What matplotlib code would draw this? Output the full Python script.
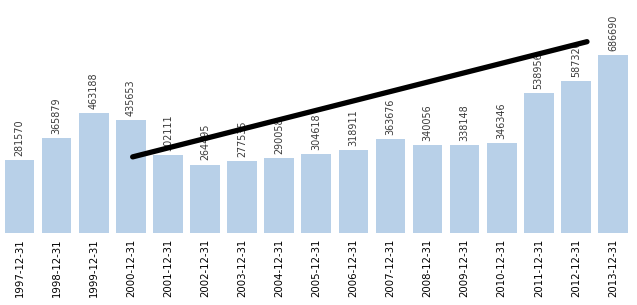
import matplotlib
matplotlib.use('Agg')
import matplotlib.pyplot as plt

dates = ['1997-12-31', '1998-12-31', '1999-12-31', '2000-12-31', '2001-12-31',
         '2002-12-31', '2003-12-31', '2004-12-31', '2005-12-31', '2006-12-31',
         '2007-12-31', '2008-12-31', '2009-12-31', '2010-12-31', '2011-12-31',
         '2012-12-31', '2013-12-31']
values = [281570, 365879, 463188, 435653, 302111, 264495, 277535, 290058,
          304618, 318911, 363676, 340056, 338148, 346346, 538956, 587320,
          686690]

# hand-drawn trend line (bar index, value)
trend_x = [3.05, 15.3]
trend_y = [294000, 739000]

bar_color = '#b8d0e8'

fig = plt.figure(figsize=(6.37, 3.05), dpi=100)
ax = fig.add_axes([1 / 637, 72 / 305, 630.5 / 637, 233 / 305])

x = list(range(len(values)))
ax.bar(x, values, width=0.8, color=bar_color, zorder=1)

for i, v in enumerate(values):
    ax.annotate(str(v), (i, v), xytext=(0, 3), textcoords='offset points',
                rotation=90, ha='center', va='bottom', fontsize=6.9,
                color='#3a3a3a', zorder=2)

ax.plot(trend_x, trend_y, color='black', linewidth=3.8,
        solid_capstyle='round', zorder=3)

ax.set_xlim(-0.5, len(values) - 0.5)
ax.set_ylim(0, 900000)
ax.set_xticks(x)
ax.set_xticklabels(dates, rotation=90, fontsize=7.3, color='black')
ax.tick_params(axis='x', length=0, pad=4)
ax.set_yticks([])
for s in ax.spines.values():
    s.set_visible(False)

fig.savefig('out.png', dpi=100)
